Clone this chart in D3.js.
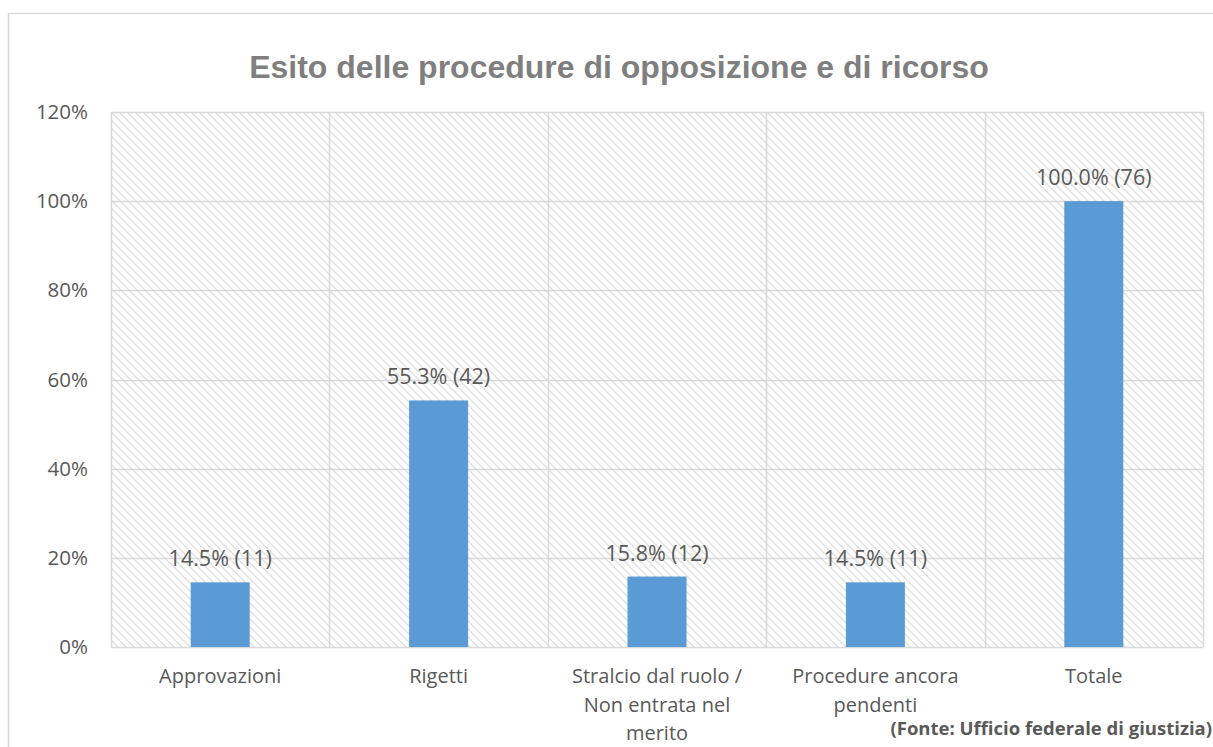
<!DOCTYPE html>
<html>
<head>
<meta charset="utf-8">
<script src="https://cdn.jsdelivr.net/npm/d3@7"></script>
<style>
  html, body { margin: 0; padding: 0; background: #fff; }
  svg { display: block; }
</style>
</head>
<body>
<svg id="chart"></svg>
<script>
(function() {
    'use strict';

    // data
    var categories = ['Approvazioni', 'Rigetti', 'Stralcio dal ruolo / Non entrata nel merito', 'Procedure ancora pendenti', 'Totale'];
    var percents = [14.5, 55.3, 15.8, 14.5, 100.0];
    var counts = [11, 42, 12, 11, 76];
    var yTicks = [0, 20, 40, 60, 80, 100, 120];
    var title = 'Esito delle procedure di opposizione e di ricorso';
    var source = '(Fonte: Ufficio federale di giustizia)';

    var WIDTH = 1213, HEIGHT = 747;
    var margin = { top: 112, left: 111 };
    var plotW = 1203 - margin.left, plotH = 647 - margin.top;
    var textFont = '"Open Sans", "Noto Sans", sans-serif';
    var textColor = '#595959';

    var svg = d3.select('#chart').attr('width', WIDTH).attr('height', HEIGHT);

    // hatch pattern for the plot area
    var pattern = svg.append('defs').append('pattern')
        .attr('id', 'hatch')
        .attr('patternUnits', 'userSpaceOnUse')
        .attr('width', 8).attr('height', 8);
    pattern.append('rect').attr('width', 8).attr('height', 8).attr('fill', '#fff');
    pattern.append('path')
        .attr('d', 'M-2,-2 L10,10 M-2,6 L2,10 M6,-2 L10,2')
        .attr('stroke', '#dedede').attr('stroke-width', 1.3);

    // outer chart frame
    svg.append('rect')
        .attr('x', 8.5).attr('y', 13.5)
        .attr('width', 1260).attr('height', 800)
        .attr('fill', 'none').attr('stroke', '#d9d9d9').attr('stroke-width', 1.5);

    svg.append('text')
        .attr('x', 619).attr('y', 78)
        .attr('text-anchor', 'middle')
        .attr('font-family', '"Liberation Sans", Arial, sans-serif')
        .attr('font-weight', 'bold')
        .attr('font-size', 32)
        .attr('fill', '#7f7f7f')
        .text(title);

    var g = svg.append('g').attr('transform', 'translate(' + margin.left + ',' + margin.top + ')');

    var x = d3.scaleBand().domain(categories).range([0, plotW]).paddingInner(0).paddingOuter(0);
    var y = d3.scaleLinear().domain([0, 120]).range([plotH, 0]);

    g.append('rect')
        .attr('width', plotW).attr('height', plotH)
        .attr('fill', 'url(#hatch)');

    // horizontal gridlines
    g.selectAll('.hgrid').data(yTicks).enter()
        .append('line')
            .attr('class', 'hgrid')
            .attr('x1', 0).attr('x2', plotW)
            .attr('y1', d => Math.round(y(d)) + 0.5)
            .attr('y2', d => Math.round(y(d)) + 0.5)
            .attr('stroke', '#d9d9d9').attr('stroke-width', 1.5);

    // vertical gridlines at category boundaries
    var bounds = categories.map(c => x(c)).concat([plotW]);
    g.selectAll('.vgrid').data(bounds).enter()
        .append('line')
            .attr('class', 'vgrid')
            .attr('y1', 0).attr('y2', plotH)
            .attr('x1', d => Math.round(d) + 0.5)
            .attr('x2', d => Math.round(d) + 0.5)
            .attr('stroke', '#d9d9d9').attr('stroke-width', 1.5);

    // y axis labels
    var yAxis = d3.axisLeft(y).tickValues(yTicks).tickFormat(d => d + '%').tickSize(0).tickPadding(23);
    var ya = g.append('g').call(yAxis);
    ya.select('.domain').remove();
    ya.selectAll('text')
        .attr('font-family', textFont).attr('font-size', 20.5).attr('fill', textColor);

    var barW = 59;
    var data = categories.map((c, i) => ({ cat: c, pct: percents[i], n: counts[i] }));

    g.selectAll('.bar').data(data).enter()
        .append('rect')
            .attr('class', 'bar')
            .attr('x', d => x(d.cat) + x.bandwidth() / 2 - barW / 2)
            .attr('y', d => y(d.pct))
            .attr('width', barW)
            .attr('height', d => plotH - y(d.pct))
            .attr('fill', '#5b9bd5');

    g.selectAll('.lbl').data(data).enter()
        .append('text')
            .attr('class', 'lbl')
            .attr('x', d => x(d.cat) + x.bandwidth() / 2)
            .attr('y', d => y(d.pct) - 16)
            .attr('text-anchor', 'middle')
            .attr('font-family', textFont).attr('font-size', 21.5).attr('fill', textColor)
            .text(d => d.pct.toFixed(1) + '% (' + d.n + ')');

    // x axis labels, wrapped like the original
    var xAxis = d3.axisBottom(x).tickSize(0).tickPadding(0);
    var xa = g.append('g').attr('transform', 'translate(0,' + plotH + ')').call(xAxis);
    xa.select('.domain').remove();
    xa.selectAll('text').remove();
    xa.selectAll('.tick').each(function(d) {
        var t = d3.select(this).append('text')
            .attr('text-anchor', 'middle')
            .attr('font-family', textFont).attr('font-size', 20).attr('fill', textColor);
        var words = d.split(' '), line = [], lines = [];
        var probe = t.append('tspan');
        words.forEach(w => {
            line.push(w);
            probe.text(line.join(' '));
            if (probe.node().getComputedTextLength() > 190 && line.length > 1) {
                line.pop();
                lines.push(line.join(' '));
                line = [w];
            }
        });
        lines.push(line.join(' '));
        probe.remove();
        lines.forEach((l, i) => {
            t.append('tspan').attr('x', 0).attr('y', 36 + i * 28.5).text(l);
        });
    });

    svg.append('text')
        .attr('x', 1212).attr('y', 735)
        .attr('text-anchor', 'end')
        .attr('font-family', textFont)
        .attr('font-weight', 'bold')
        .attr('font-size', 18.5)
        .attr('fill', textColor)
        .text(source);
})();
</script>
</body>
</html>
